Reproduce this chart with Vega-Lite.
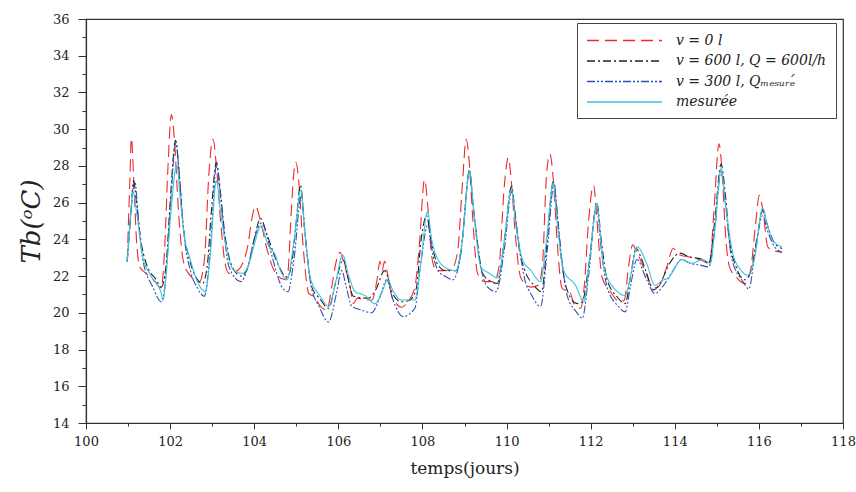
{
  "$schema": "https://vega.github.io/schema/vega-lite/v6.json",
  "autosize": {"type": "none"},
  "width": 757,
  "height": 404,
  "padding": {"left": 86, "top": 19, "right": 13, "bottom": 69},
  "background": "white",
  "config": {
    "font": "DejaVu Serif",
    "view": {"stroke": "#333", "strokeWidth": 1.2},
    "axis": {"domainColor": "#333", "domainWidth": 1.2, "tickColor": "#333", "tickWidth": 1, "labelColor": "#222", "titleColor": "#222", "grid": false, "labelFont": "DejaVu Serif", "titleFont": "DejaVu Serif", "titleFontWeight": "normal"},
    "legend": {"labelFont": "DejaVu Serif"}
  },
  "data": {"values": [
    {"s":"v0","t":100.98,"v":22.8},{"s":"v0","t":101.04,"v":27.0},{"s":"v0","t":101.08,"v":29.5},{"s":"v0","t":101.13,"v":27.5},{"s":"v0","t":101.2,"v":24.0},{"s":"v0","t":101.28,"v":22.5},{"s":"v0","t":101.4,"v":22.2},{"s":"v0","t":101.6,"v":21.8},{"s":"v0","t":101.79,"v":21.35},{"s":"v0","t":101.87,"v":23.5},{"s":"v0","t":101.95,"v":28.0},{"s":"v0","t":102.03,"v":30.8},{"s":"v0","t":102.1,"v":29.5},{"s":"v0","t":102.2,"v":25.5},{"s":"v0","t":102.3,"v":23.0},{"s":"v0","t":102.42,"v":22.2},{"s":"v0","t":102.7,"v":21.7},{"s":"v0","t":102.82,"v":23.0},{"s":"v0","t":102.92,"v":27.5},{"s":"v0","t":103.02,"v":29.45},{"s":"v0","t":103.1,"v":28.0},{"s":"v0","t":103.2,"v":25.0},{"s":"v0","t":103.3,"v":22.8},{"s":"v0","t":103.4,"v":22.15},{"s":"v0","t":103.6,"v":22.3},{"s":"v0","t":103.68,"v":22.5},{"s":"v0","t":103.85,"v":23.7},{"s":"v0","t":103.95,"v":25.2},{"s":"v0","t":104.03,"v":25.8},{"s":"v0","t":104.15,"v":25.0},{"s":"v0","t":104.3,"v":23.5},{"s":"v0","t":104.5,"v":22.2},{"s":"v0","t":104.74,"v":21.8},{"s":"v0","t":104.8,"v":22.2},{"s":"v0","t":104.88,"v":25.5},{"s":"v0","t":104.95,"v":27.8},{"s":"v0","t":104.99,"v":28.2},{"s":"v0","t":105.05,"v":27.4},{"s":"v0","t":105.15,"v":24.0},{"s":"v0","t":105.3,"v":21.05},{"s":"v0","t":105.41,"v":20.9},{"s":"v0","t":105.6,"v":20.3},{"s":"v0","t":105.73,"v":20.15},{"s":"v0","t":105.85,"v":21.5},{"s":"v0","t":105.95,"v":22.8},{"s":"v0","t":106.04,"v":23.3},{"s":"v0","t":106.12,"v":22.8},{"s":"v0","t":106.28,"v":21.4},{"s":"v0","t":106.36,"v":20.5},{"s":"v0","t":106.45,"v":20.8},{"s":"v0","t":106.63,"v":20.7},{"s":"v0","t":106.8,"v":20.7},{"s":"v0","t":106.92,"v":21.8},{"s":"v0","t":106.99,"v":22.8},{"s":"v0","t":107.04,"v":22.3},{"s":"v0","t":107.1,"v":22.8},{"s":"v0","t":107.18,"v":22.0},{"s":"v0","t":107.27,"v":20.9},{"s":"v0","t":107.38,"v":20.5},{"s":"v0","t":107.5,"v":20.3},{"s":"v0","t":107.65,"v":20.6},{"s":"v0","t":107.82,"v":21.4},{"s":"v0","t":107.92,"v":23.5},{"s":"v0","t":108.05,"v":27.25},{"s":"v0","t":108.12,"v":26.0},{"s":"v0","t":108.2,"v":23.5},{"s":"v0","t":108.25,"v":22.7},{"s":"v0","t":108.33,"v":22.3},{"s":"v0","t":108.53,"v":22.3},{"s":"v0","t":108.7,"v":22.4},{"s":"v0","t":108.84,"v":23.4},{"s":"v0","t":108.95,"v":27.0},{"s":"v0","t":109.04,"v":29.45},{"s":"v0","t":109.12,"v":28.0},{"s":"v0","t":109.2,"v":25.0},{"s":"v0","t":109.31,"v":22.15},{"s":"v0","t":109.47,"v":21.7},{"s":"v0","t":109.7,"v":21.7},{"s":"v0","t":109.82,"v":22.5},{"s":"v0","t":109.95,"v":27.0},{"s":"v0","t":110.04,"v":28.45},{"s":"v0","t":110.12,"v":27.0},{"s":"v0","t":110.2,"v":24.5},{"s":"v0","t":110.34,"v":21.9},{"s":"v0","t":110.58,"v":21.4},{"s":"v0","t":110.75,"v":21.5},{"s":"v0","t":110.85,"v":22.5},{"s":"v0","t":110.95,"v":27.5},{"s":"v0","t":111.03,"v":28.65},{"s":"v0","t":111.12,"v":27.0},{"s":"v0","t":111.2,"v":24.0},{"s":"v0","t":111.32,"v":21.35},{"s":"v0","t":111.52,"v":21.05},{"s":"v0","t":111.6,"v":20.5},{"s":"v0","t":111.76,"v":20.25},{"s":"v0","t":111.85,"v":21.5},{"s":"v0","t":111.95,"v":25.0},{"s":"v0","t":112.07,"v":26.95},{"s":"v0","t":112.15,"v":25.0},{"s":"v0","t":112.27,"v":21.95},{"s":"v0","t":112.47,"v":21.15},{"s":"v0","t":112.7,"v":20.6},{"s":"v0","t":112.8,"v":20.7},{"s":"v0","t":112.9,"v":22.5},{"s":"v0","t":113.0,"v":23.7},{"s":"v0","t":113.1,"v":23.3},{"s":"v0","t":113.29,"v":22.3},{"s":"v0","t":113.49,"v":21.35},{"s":"v0","t":113.6,"v":21.4},{"s":"v0","t":113.81,"v":22.5},{"s":"v0","t":113.96,"v":23.5},{"s":"v0","t":114.12,"v":23.15},{"s":"v0","t":114.32,"v":23.05},{"s":"v0","t":114.59,"v":22.9},{"s":"v0","t":114.83,"v":22.7},{"s":"v0","t":114.93,"v":25.5},{"s":"v0","t":115.05,"v":29.2},{"s":"v0","t":115.13,"v":27.5},{"s":"v0","t":115.2,"v":24.5},{"s":"v0","t":115.3,"v":22.5},{"s":"v0","t":115.46,"v":21.95},{"s":"v0","t":115.66,"v":21.6},{"s":"v0","t":115.8,"v":22.3},{"s":"v0","t":115.92,"v":24.8},{"s":"v0","t":116.01,"v":26.4},{"s":"v0","t":116.1,"v":25.5},{"s":"v0","t":116.21,"v":23.6},{"s":"v0","t":116.33,"v":23.4},{"s":"v0","t":116.55,"v":23.3},

    {"s":"v600","t":100.98,"v":22.8},{"s":"v600","t":101.07,"v":25.5},{"s":"v600","t":101.13,"v":27.2},{"s":"v600","t":101.2,"v":26.0},{"s":"v600","t":101.3,"v":24.0},{"s":"v600","t":101.43,"v":22.7},{"s":"v600","t":101.67,"v":21.8},{"s":"v600","t":101.79,"v":21.4},{"s":"v600","t":101.9,"v":22.5},{"s":"v600","t":102.0,"v":26.0},{"s":"v600","t":102.13,"v":29.4},{"s":"v600","t":102.2,"v":28.0},{"s":"v600","t":102.3,"v":25.0},{"s":"v600","t":102.46,"v":22.9},{"s":"v600","t":102.77,"v":21.6},{"s":"v600","t":102.88,"v":22.5},{"s":"v600","t":102.98,"v":25.5},{"s":"v600","t":103.1,"v":28.2},{"s":"v600","t":103.2,"v":26.5},{"s":"v600","t":103.3,"v":24.3},{"s":"v600","t":103.4,"v":23.05},{"s":"v600","t":103.56,"v":22.2},{"s":"v600","t":103.7,"v":22.0},{"s":"v600","t":103.85,"v":22.5},{"s":"v600","t":104.0,"v":24.0},{"s":"v600","t":104.15,"v":25.15},{"s":"v600","t":104.3,"v":24.3},{"s":"v600","t":104.5,"v":23.0},{"s":"v600","t":104.78,"v":21.95},{"s":"v600","t":104.9,"v":22.8},{"s":"v600","t":105.0,"v":25.0},{"s":"v600","t":105.1,"v":26.95},{"s":"v600","t":105.2,"v":24.5},{"s":"v600","t":105.37,"v":21.4},{"s":"v600","t":105.55,"v":20.8},{"s":"v600","t":105.77,"v":20.25},{"s":"v600","t":105.95,"v":21.8},{"s":"v600","t":106.12,"v":22.9},{"s":"v600","t":106.2,"v":22.2},{"s":"v600","t":106.36,"v":20.9},{"s":"v600","t":106.71,"v":20.8},{"s":"v600","t":106.9,"v":21.3},{"s":"v600","t":107.1,"v":22.3},{"s":"v600","t":107.3,"v":21.0},{"s":"v600","t":107.5,"v":20.6},{"s":"v600","t":107.7,"v":20.7},{"s":"v600","t":107.85,"v":21.3},{"s":"v600","t":107.97,"v":24.0},{"s":"v600","t":108.1,"v":25.3},{"s":"v600","t":108.2,"v":24.0},{"s":"v600","t":108.37,"v":22.6},{"s":"v600","t":108.55,"v":22.3},{"s":"v600","t":108.8,"v":22.3},{"s":"v600","t":108.95,"v":24.0},{"s":"v600","t":109.12,"v":27.8},{"s":"v600","t":109.2,"v":26.0},{"s":"v600","t":109.3,"v":24.0},{"s":"v600","t":109.43,"v":22.15},{"s":"v600","t":109.63,"v":21.7},{"s":"v600","t":109.78,"v":21.6},{"s":"v600","t":109.95,"v":24.0},{"s":"v600","t":110.12,"v":26.9},{"s":"v600","t":110.2,"v":25.5},{"s":"v600","t":110.3,"v":23.5},{"s":"v600","t":110.42,"v":22.4},{"s":"v600","t":110.65,"v":21.5},{"s":"v600","t":110.83,"v":21.15},{"s":"v600","t":110.97,"v":24.0},{"s":"v600","t":111.11,"v":27.15},{"s":"v600","t":111.2,"v":25.5},{"s":"v600","t":111.3,"v":23.0},{"s":"v600","t":111.44,"v":21.25},{"s":"v600","t":111.68,"v":20.5},{"s":"v600","t":111.8,"v":20.6},{"s":"v600","t":111.95,"v":22.5},{"s":"v600","t":112.15,"v":25.95},{"s":"v600","t":112.25,"v":24.0},{"s":"v600","t":112.39,"v":21.8},{"s":"v600","t":112.62,"v":20.9},{"s":"v600","t":112.82,"v":20.5},{"s":"v600","t":112.95,"v":22.0},{"s":"v600","t":113.08,"v":23.5},{"s":"v600","t":113.2,"v":23.0},{"s":"v600","t":113.33,"v":22.15},{"s":"v600","t":113.5,"v":21.25},{"s":"v600","t":113.65,"v":21.6},{"s":"v600","t":113.88,"v":22.7},{"s":"v600","t":114.12,"v":23.25},{"s":"v600","t":114.35,"v":23.05},{"s":"v600","t":114.67,"v":22.9},{"s":"v600","t":114.81,"v":22.7},{"s":"v600","t":114.95,"v":25.0},{"s":"v600","t":115.1,"v":28.1},{"s":"v600","t":115.2,"v":26.5},{"s":"v600","t":115.3,"v":24.0},{"s":"v600","t":115.46,"v":22.5},{"s":"v600","t":115.66,"v":21.8},{"s":"v600","t":115.8,"v":22.2},{"s":"v600","t":115.95,"v":24.0},{"s":"v600","t":116.09,"v":25.6},{"s":"v600","t":116.2,"v":24.8},{"s":"v600","t":116.37,"v":23.8},{"s":"v600","t":116.55,"v":23.5},

    {"s":"v300","t":100.98,"v":22.8},{"s":"v300","t":101.07,"v":25.5},{"s":"v300","t":101.16,"v":27.15},{"s":"v300","t":101.25,"v":25.0},{"s":"v300","t":101.35,"v":22.9},{"s":"v300","t":101.59,"v":21.4},{"s":"v300","t":101.79,"v":20.6},{"s":"v300","t":101.9,"v":22.0},{"s":"v300","t":102.0,"v":25.5},{"s":"v300","t":102.14,"v":29.3},{"s":"v300","t":102.22,"v":27.5},{"s":"v300","t":102.32,"v":24.5},{"s":"v300","t":102.5,"v":22.15},{"s":"v300","t":102.65,"v":21.35},{"s":"v300","t":102.81,"v":20.9},{"s":"v300","t":102.92,"v":22.5},{"s":"v300","t":103.0,"v":25.0},{"s":"v300","t":103.1,"v":28.05},{"s":"v300","t":103.2,"v":26.3},{"s":"v300","t":103.3,"v":24.0},{"s":"v300","t":103.4,"v":22.5},{"s":"v300","t":103.68,"v":21.7},{"s":"v300","t":103.85,"v":22.5},{"s":"v300","t":104.0,"v":24.0},{"s":"v300","t":104.18,"v":24.9},{"s":"v300","t":104.3,"v":24.2},{"s":"v300","t":104.4,"v":23.3},{"s":"v300","t":104.66,"v":21.4},{"s":"v300","t":104.8,"v":21.15},{"s":"v300","t":104.95,"v":23.0},{"s":"v300","t":105.12,"v":26.4},{"s":"v300","t":105.22,"v":24.0},{"s":"v300","t":105.35,"v":21.5},{"s":"v300","t":105.55,"v":20.3},{"s":"v300","t":105.77,"v":19.5},{"s":"v300","t":105.95,"v":21.0},{"s":"v300","t":106.08,"v":22.3},{"s":"v300","t":106.18,"v":21.5},{"s":"v300","t":106.32,"v":20.35},{"s":"v300","t":106.55,"v":20.15},{"s":"v300","t":106.79,"v":20.0},{"s":"v300","t":106.98,"v":20.8},{"s":"v300","t":107.15,"v":21.8},{"s":"v300","t":107.3,"v":20.7},{"s":"v300","t":107.54,"v":19.8},{"s":"v300","t":107.82,"v":20.25},{"s":"v300","t":107.95,"v":22.5},{"s":"v300","t":108.13,"v":24.8},{"s":"v300","t":108.22,"v":23.5},{"s":"v300","t":108.37,"v":22.3},{"s":"v300","t":108.57,"v":21.95},{"s":"v300","t":108.72,"v":21.8},{"s":"v300","t":108.9,"v":23.0},{"s":"v300","t":109.12,"v":27.6},{"s":"v300","t":109.22,"v":25.5},{"s":"v300","t":109.35,"v":23.0},{"s":"v300","t":109.55,"v":21.4},{"s":"v300","t":109.75,"v":21.15},{"s":"v300","t":109.95,"v":23.5},{"s":"v300","t":110.12,"v":26.6},{"s":"v300","t":110.22,"v":25.0},{"s":"v300","t":110.42,"v":21.95},{"s":"v300","t":110.61,"v":20.9},{"s":"v300","t":110.81,"v":20.35},{"s":"v300","t":110.97,"v":23.5},{"s":"v300","t":111.13,"v":27.05},{"s":"v300","t":111.22,"v":25.0},{"s":"v300","t":111.44,"v":20.95},{"s":"v300","t":111.66,"v":20.05},{"s":"v300","t":111.8,"v":19.7},{"s":"v300","t":111.95,"v":22.0},{"s":"v300","t":112.14,"v":25.8},{"s":"v300","t":112.25,"v":23.5},{"s":"v300","t":112.39,"v":21.4},{"s":"v300","t":112.66,"v":20.35},{"s":"v300","t":112.82,"v":20.05},{"s":"v300","t":112.95,"v":21.5},{"s":"v300","t":113.1,"v":22.9},{"s":"v300","t":113.33,"v":21.8},{"s":"v300","t":113.53,"v":21.05},{"s":"v300","t":113.7,"v":21.4},{"s":"v300","t":113.96,"v":22.3},{"s":"v300","t":114.16,"v":22.9},{"s":"v300","t":114.36,"v":22.7},{"s":"v300","t":114.6,"v":22.6},{"s":"v300","t":114.81,"v":22.5},{"s":"v300","t":114.95,"v":24.5},{"s":"v300","t":115.1,"v":27.7},{"s":"v300","t":115.2,"v":26.0},{"s":"v300","t":115.35,"v":23.0},{"s":"v300","t":115.62,"v":21.7},{"s":"v300","t":115.76,"v":21.3},{"s":"v300","t":115.92,"v":23.5},{"s":"v300","t":116.09,"v":25.3},{"s":"v300","t":116.2,"v":24.5},{"s":"v300","t":116.37,"v":23.6},{"s":"v300","t":116.55,"v":23.3},

    {"s":"mes","t":100.98,"v":22.8},{"s":"mes","t":101.05,"v":25.0},{"s":"mes","t":101.12,"v":26.6},{"s":"mes","t":101.2,"v":25.5},{"s":"mes","t":101.35,"v":23.05},{"s":"mes","t":101.51,"v":22.15},{"s":"mes","t":101.79,"v":21.05},{"s":"mes","t":101.83,"v":20.7},{"s":"mes","t":101.92,"v":22.5},{"s":"mes","t":102.02,"v":25.5},{"s":"mes","t":102.16,"v":28.05},{"s":"mes","t":102.25,"v":26.0},{"s":"mes","t":102.35,"v":24.0},{"s":"mes","t":102.46,"v":23.05},{"s":"mes","t":102.65,"v":21.7},{"s":"mes","t":102.84,"v":21.15},{"s":"mes","t":102.95,"v":23.0},{"s":"mes","t":103.1,"v":27.2},{"s":"mes","t":103.2,"v":25.5},{"s":"mes","t":103.33,"v":23.6},{"s":"mes","t":103.52,"v":22.3},{"s":"mes","t":103.72,"v":22.15},{"s":"mes","t":103.85,"v":22.5},{"s":"mes","t":104.0,"v":23.7},{"s":"mes","t":104.15,"v":24.7},{"s":"mes","t":104.35,"v":23.6},{"s":"mes","t":104.5,"v":23.15},{"s":"mes","t":104.59,"v":22.5},{"s":"mes","t":104.78,"v":21.8},{"s":"mes","t":104.95,"v":24.0},{"s":"mes","t":105.11,"v":26.7},{"s":"mes","t":105.2,"v":24.5},{"s":"mes","t":105.33,"v":21.95},{"s":"mes","t":105.57,"v":20.9},{"s":"mes","t":105.77,"v":20.35},{"s":"mes","t":105.95,"v":21.8},{"s":"mes","t":106.1,"v":23.15},{"s":"mes","t":106.25,"v":22.0},{"s":"mes","t":106.4,"v":21.15},{"s":"mes","t":106.63,"v":20.95},{"s":"mes","t":106.87,"v":20.5},{"s":"mes","t":107.05,"v":21.2},{"s":"mes","t":107.17,"v":21.8},{"s":"mes","t":107.3,"v":21.2},{"s":"mes","t":107.5,"v":20.7},{"s":"mes","t":107.82,"v":20.7},{"s":"mes","t":107.95,"v":22.5},{"s":"mes","t":108.12,"v":25.5},{"s":"mes","t":108.22,"v":24.0},{"s":"mes","t":108.37,"v":22.9},{"s":"mes","t":108.6,"v":22.4},{"s":"mes","t":108.8,"v":22.3},{"s":"mes","t":108.95,"v":24.0},{"s":"mes","t":109.12,"v":27.75},{"s":"mes","t":109.22,"v":25.5},{"s":"mes","t":109.39,"v":22.5},{"s":"mes","t":109.59,"v":22.15},{"s":"mes","t":109.79,"v":21.9},{"s":"mes","t":109.95,"v":24.0},{"s":"mes","t":110.12,"v":26.7},{"s":"mes","t":110.22,"v":24.8},{"s":"mes","t":110.38,"v":22.9},{"s":"mes","t":110.58,"v":22.3},{"s":"mes","t":110.81,"v":21.7},{"s":"mes","t":110.95,"v":24.0},{"s":"mes","t":111.11,"v":27.05},{"s":"mes","t":111.2,"v":25.0},{"s":"mes","t":111.36,"v":22.3},{"s":"mes","t":111.64,"v":21.5},{"s":"mes","t":111.84,"v":20.6},{"s":"mes","t":111.98,"v":23.0},{"s":"mes","t":112.15,"v":25.95},{"s":"mes","t":112.22,"v":24.5},{"s":"mes","t":112.31,"v":22.5},{"s":"mes","t":112.59,"v":21.25},{"s":"mes","t":112.82,"v":20.95},{"s":"mes","t":112.95,"v":22.0},{"s":"mes","t":113.1,"v":23.6},{"s":"mes","t":113.33,"v":22.7},{"s":"mes","t":113.53,"v":21.5},{"s":"mes","t":113.73,"v":21.8},{"s":"mes","t":113.85,"v":21.9},{"s":"mes","t":114.04,"v":22.6},{"s":"mes","t":114.16,"v":22.9},{"s":"mes","t":114.4,"v":22.7},{"s":"mes","t":114.67,"v":22.9},{"s":"mes","t":114.85,"v":22.7},{"s":"mes","t":114.95,"v":24.5},{"s":"mes","t":115.1,"v":27.85},{"s":"mes","t":115.2,"v":26.0},{"s":"mes","t":115.38,"v":23.25},{"s":"mes","t":115.58,"v":22.3},{"s":"mes","t":115.74,"v":22.05},{"s":"mes","t":115.9,"v":23.0},{"s":"mes","t":116.09,"v":25.7},{"s":"mes","t":116.2,"v":24.8},{"s":"mes","t":116.33,"v":23.95},{"s":"mes","t":116.55,"v":23.6}
  ]},
  "mark": {"type": "line", "interpolate": "monotone", "strokeWidth": 1.1},
  "encoding": {
    "x": {
      "field": "t", "type": "quantitative",
      "scale": {"domain": [100, 118], "nice": false, "zero": false},
      "axis": {
        "title": "temps(jours)", "titleFontSize": 17, "titlePadding": 12,
        "values": [100,101,102,103,104,105,106,107,108,109,110,111,112,113,114,115,116,117,118],
        "labelExpr": "datum.value % 2 === 0 ? datum.label : ''",
        "tickSize": {"condition": {"test": "datum.value % 2 === 0", "value": 6}, "value": 3},
        "labelFontSize": 13, "labelPadding": 6, "labelOverlap": false, "labelFlush": false
      }
    },
    "y": {
      "field": "v", "type": "quantitative",
      "scale": {"domain": [14, 36], "nice": false, "zero": false},
      "axis": {
        "title": "Tb(ᵒC)", "titleFontSize": 26, "titleFontStyle": "italic", "titlePadding": 8,
        "values": [14,15,16,17,18,19,20,21,22,23,24,25,26,27,28,29,30,31,32,33,34,35,36],
        "labelExpr": "datum.value % 2 === 0 ? datum.label : ''",
        "tickSize": {"condition": {"test": "datum.value % 2 === 0", "value": 8}, "value": 4},
        "labelFontSize": 13, "labelPadding": 9, "labelOverlap": false
      }
    },
    "color": {
      "field": "s", "type": "nominal",
      "scale": {"domain": ["v0", "v600", "v300", "mes"], "range": ["#f02828", "#222222", "#2f4fb8", "#3cc4dc"]},
      "legend": {
        "orient": "none", "legendX": 491, "legendY": 4, "title": null,
        "symbolType": "M-1,0H9", "symbolSize": 225, "symbolStrokeWidth": 1.3,
        "labelFontStyle": "italic", "labelFontSize": 14, "labelColor": "#222",
        "labelOffset": 73, "labelLimit": 300, "padding": 9, "rowPadding": 4.5,
        "strokeColor": "#444", "fillColor": "white",
        "labelExpr": "datum.value === 'v0' ? 'v = 0 l' : datum.value === 'v600' ? 'v = 600 l, Q = 600l/h' : datum.value === 'v300' ? 'v = 300 l, Qₘₑₛᵤᵣₑ́' : 'mesurée'"
      }
    },
    "strokeDash": {
      "field": "s", "type": "nominal",
      "scale": {"domain": ["v0", "v600", "v300", "mes"], "range": [[12, 6], [8, 3, 2, 3], [8, 2, 2, 2, 2, 2], [1, 0]]},
      "legend": null
    }
  }
}
